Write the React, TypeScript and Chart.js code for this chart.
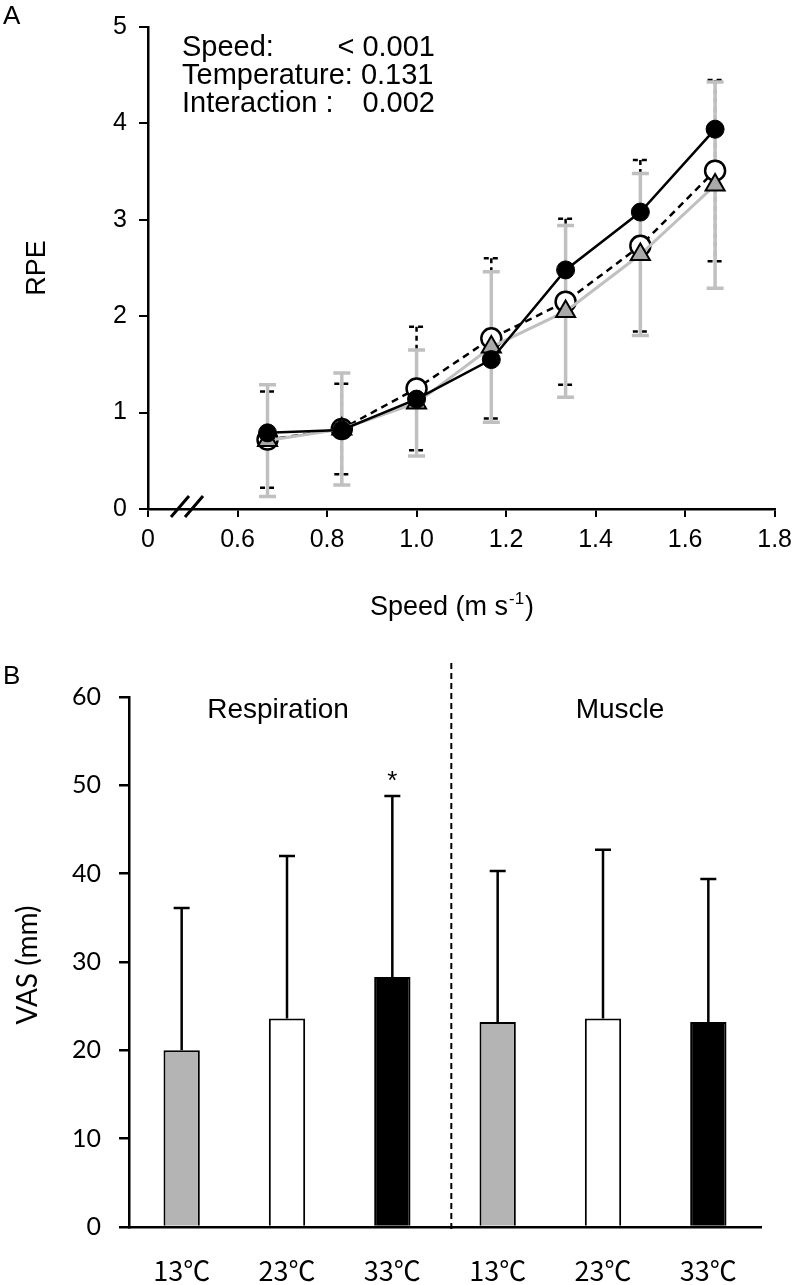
import React, { useEffect, useRef } from "react";
import { Chart, registerables } from "chart.js";

Chart.register(...registerables);

// ---------- Panel A data ----------
const speeds = [0.667, 0.833, 1.0, 1.167, 1.333, 1.5, 1.667];
const rpe33 = [0.79, 0.82, 1.14, 1.55, 2.48, 3.08, 3.94];
const rpe23 = [0.72, 0.83, 1.25, 1.77, 2.15, 2.73, 3.51];
const rpe13 = [0.71, 0.83, 1.1, 1.68, 2.05, 2.64, 3.36];
const sd23 = [0.5, 0.47, 0.64, 0.83, 0.86, 0.89, 0.94];
const sd13 = [0.58, 0.58, 0.55, 0.78, 0.89, 0.84, 1.07];
const xTickValues = [0.4, 0.6, 0.8, 1.0, 1.2, 1.4, 1.6, 1.8];
const xTickLabels = ["0", "0.6", "0.8", "1.0", "1.2", "1.4", "1.6", "1.8"];
const statLabels = ["Speed:", "Temperature: 0.131", "Interaction :"];
const statValues = ["< 0.001", "", "0.002"];

// ---------- Panel B data ----------
const vasCategories = ["13℃", "23℃", "33℃", "13℃", "23℃", "33℃"];
const vasMeans = [20.0, 23.6, 28.3, 23.2, 23.6, 23.2];
const vasSD = [16.1, 18.4, 20.5, 17.1, 19.1, 16.2];
const vasColors = ["#b4b4b4", "#ffffff", "#000000", "#b4b4b4", "#ffffff", "#000000"];
const vasGroups = ["Respiration", "Muscle"];
const vasSignificant = [false, false, true, false, false, false];
const DIVIDER_POS = 2.56;

const ARIAL = "'Liberation Sans', Arial, sans-serif";
const CALIBRI = "Lato, 'Noto Sans CJK JP', sans-serif";
const CJK = "'Noto Sans CJK JP', Lato, sans-serif";

function drawErrorBars(ctx: CanvasRenderingContext2D, x: any, y: any, xs: number[], ms: number[], sds: number[], color: string, width: number, cap: number, dash: number[]) {
  ctx.save();
  ctx.strokeStyle = color;
  ctx.lineWidth = width;
  ctx.setLineDash(dash);
  for (let i = 0; i < xs.length; i++) {
    const px = x.getPixelForValue(xs[i]);
    const top = y.getPixelForValue(ms[i] + sds[i]);
    const bot = y.getPixelForValue(ms[i] - sds[i]);
    ctx.beginPath();
    ctx.moveTo(px, top);
    ctx.lineTo(px, bot);
    ctx.moveTo(px - cap / 2, top);
    ctx.lineTo(px + cap / 2, top);
    ctx.moveTo(px - cap / 2, bot);
    ctx.lineTo(px + cap / 2, bot);
    ctx.stroke();
  }
  ctx.restore();
}

const errorBarsA = {
  id: "errorBarsA",
  beforeDatasetsDraw(chart: any) {
    const { ctx, scales } = chart;
    drawErrorBars(ctx, scales.x, scales.y, speeds, rpe23, sd23, "#000000", 2.5, 15, [5, 4]);
    drawErrorBars(ctx, scales.x, scales.y, speeds, rpe13, sd13, "#c0c0c0", 3.5, 17, []);
  },
};

const decorA = {
  id: "decorA",
  afterDraw(chart: any) {
    const { ctx, chartArea, scales } = chart;
    ctx.save();
    ctx.fillStyle = "#000";
    ctx.font = `26px ${ARIAL}`;
    ctx.textBaseline = "middle";
    ctx.textAlign = "left";
    ctx.fillText("A", 3, 17);
    ctx.font = `29px ${ARIAL}`;
    ctx.textBaseline = "alphabetic";
    const baselines = [56, 84, 112];
    for (let i = 0; i < statLabels.length; i++) {
      ctx.textAlign = "left";
      ctx.fillText(statLabels[i], 182, baselines[i]);
      if (statValues[i]) {
        ctx.textAlign = "right";
        ctx.fillText(statValues[i], 435, baselines[i]);
      }
    }
    ctx.save();
    ctx.font = `27px ${ARIAL}`;
    ctx.translate(38, (chartArea.top + chartArea.bottom) / 2);
    ctx.rotate(-Math.PI / 2);
    ctx.textAlign = "center";
    ctx.textBaseline = "middle";
    ctx.fillText("RPE", 0, 0);
    ctx.restore();
    const main1 = "Speed (m s";
    const sup = "-1";
    const main2 = ")";
    ctx.font = `27px ${ARIAL}`;
    const w1 = ctx.measureText(main1).width;
    const w3 = ctx.measureText(main2).width;
    ctx.font = `17px ${ARIAL}`;
    const w2 = ctx.measureText(sup).width;
    const total = w1 + w2 + w3;
    const cx = 451;
    const base = 615;
    const sx = cx - total / 2;
    ctx.textAlign = "left";
    ctx.textBaseline = "alphabetic";
    ctx.font = `27px ${ARIAL}`;
    ctx.fillText(main1, sx, base);
    ctx.font = `17px ${ARIAL}`;
    ctx.fillText(sup, sx + w1 + 1, base - 11);
    ctx.font = `27px ${ARIAL}`;
    ctx.fillText(main2, sx + w1 + w2 + 2, base);
    const yb = chartArea.bottom;
    const x0 = scales.x.left;
    ctx.strokeStyle = "#000";
    ctx.lineWidth = 3;
    ctx.beginPath();
    ctx.moveTo(x0 + 23, yb + 8);
    ctx.lineTo(x0 + 41, yb - 13);
    ctx.moveTo(x0 + 37, yb + 8);
    ctx.lineTo(x0 + 55, yb - 13);
    ctx.stroke();
    ctx.restore();
  },
};

const errorBarsB = {
  id: "errorBarsB",
  afterDatasetsDraw(chart: any) {
    const { ctx, scales, chartArea } = chart;
    const x = scales.x;
    const y = scales.y;
    ctx.save();
    ctx.strokeStyle = "#000";
    ctx.lineWidth = 2.5;
    for (let i = 0; i < vasMeans.length; i++) {
      const px = x.getPixelForValue(i);
      const top = y.getPixelForValue(vasMeans[i] + vasSD[i]);
      const bot = y.getPixelForValue(vasMeans[i]);
      ctx.beginPath();
      ctx.moveTo(px, bot);
      ctx.lineTo(px, top);
      ctx.moveTo(px - 8, top);
      ctx.lineTo(px + 8, top);
      ctx.stroke();
      if (vasSignificant[i]) {
        ctx.fillStyle = "#000";
        ctx.font = `26px ${ARIAL}`;
        ctx.textAlign = "center";
        ctx.textBaseline = "middle";
        ctx.fillText("*", px, top - 14);
      }
    }
    const dx = x.getPixelForValue(DIVIDER_POS);
    ctx.setLineDash([6, 4]);
    ctx.lineWidth = 2;
    ctx.beginPath();
    ctx.moveTo(dx, 13);
    ctx.lineTo(dx, chartArea.bottom + 4);
    ctx.stroke();
    ctx.setLineDash([]);
    ctx.fillStyle = "#000";
    ctx.font = `28px ${ARIAL}`;
    ctx.textAlign = "center";
    ctx.textBaseline = "middle";
    const g1 = (x.getPixelForValue(0) + x.getPixelForValue(2)) / 2 - 9;
    const g2 = (x.getPixelForValue(3) + x.getPixelForValue(5)) / 2 + 17;
    ctx.fillText(vasGroups[0], g1, 60);
    ctx.fillText(vasGroups[1], g2, 60);
    ctx.font = `26px ${ARIAL}`;
    ctx.textAlign = "left";
    ctx.fillText("B", 3, 27);
    ctx.save();
    ctx.font = `28px ${CALIBRI}`;
    ctx.translate(28, (chartArea.top + chartArea.bottom) / 2 + 3);
    ctx.rotate(-Math.PI / 2);
    ctx.textAlign = "center";
    ctx.textBaseline = "middle";
    ctx.fillText("VAS (mm)", 0, 0);
    ctx.restore();
    ctx.restore();
  },
};

function PanelA() {
  const ref = useRef<HTMLCanvasElement | null>(null);
  useEffect(() => {
    if (!ref.current) return;
    const pts = (ys: number[]) => speeds.map((s, i) => ({ x: s, y: ys[i] }));
    const chart = new Chart(ref.current, {
      type: "line",
      data: {
        datasets: [
          {
            label: "33",
            data: pts(rpe33),
            borderColor: "#000",
            borderWidth: 2.5,
            pointStyle: "circle",
            pointRadius: 9,
            pointBackgroundColor: "#000",
            pointBorderColor: "#000",
            pointBorderWidth: 1,
            order: 0,
          },
          {
            label: "13",
            data: pts(rpe13),
            borderColor: "#c0c0c0",
            borderWidth: 3,
            pointStyle: "triangle",
            pointRadius: 11,
            pointBackgroundColor: "#a9a9a9",
            pointBorderColor: "#000",
            pointBorderWidth: 2,
            order: 1,
          },
          {
            label: "23",
            data: pts(rpe23),
            borderColor: "#000",
            borderWidth: 2.5,
            borderDash: [7, 5],
            pointStyle: "circle",
            pointRadius: 10,
            pointBackgroundColor: "#fff",
            pointBorderColor: "#000",
            pointBorderWidth: 2.5,
            order: 2,
          },
        ],
      },
      options: {
        responsive: false,
        animation: false,
        layout: { padding: { left: 0, top: 16, right: 17, bottom: 0 } },
        plugins: { legend: { display: false }, tooltip: { enabled: false } },
        scales: {
          x: {
            type: "linear",
            min: 0.4,
            max: 1.8,
            afterBuildTicks: (scale: any) => {
              scale.ticks = xTickValues.map((v) => ({ value: v }));
            },
            afterFit: (scale: any) => {
              scale.height = 141;
            },
            ticks: {
              callback: (v: any) => {
                const idx = xTickValues.findIndex((t) => Math.abs(t - v) < 1e-6);
                return idx >= 0 ? xTickLabels[idx] : "";
              },
              font: { family: ARIAL, size: 25 },
              color: "#000",
              padding: 8,
              maxRotation: 0,
              autoSkip: false,
            },
            grid: { drawOnChartArea: false, tickLength: 8, color: "#000", lineWidth: 2 },
            border: { color: "#000", width: 2.5 },
          },
          y: {
            min: 0,
            max: 5,
            afterFit: (scale: any) => {
              scale.width = 148;
            },
            ticks: {
              stepSize: 1,
              font: { family: ARIAL, size: 25 },
              color: "#000",
              padding: 12,
            },
            grid: { drawOnChartArea: false, tickLength: 9, color: "#000", lineWidth: 2 },
            border: { color: "#000", width: 2.5 },
          },
        },
      },
      plugins: [errorBarsA, decorA],
    });
    return () => chart.destroy();
  }, []);
  return <canvas ref={ref} width={800} height={650} style={{ display: "block", width: 800, height: 650 }} />;
}

function PanelB() {
  const ref = useRef<HTMLCanvasElement | null>(null);
  useEffect(() => {
    if (!ref.current) return;
    const chart = new Chart(ref.current, {
      type: "bar",
      data: {
        labels: vasCategories,
        datasets: [
          {
            data: vasMeans,
            backgroundColor: vasColors,
            borderColor: "#000",
            borderWidth: 2,
            borderSkipped: "bottom",
            categoryPercentage: 1,
            barPercentage: 0.345,
          },
        ],
      },
      options: {
        responsive: false,
        animation: false,
        layout: { padding: { left: 0, top: 47, right: 39, bottom: 0 } },
        plugins: { legend: { display: false }, tooltip: { enabled: false } },
        scales: {
          x: {
            afterFit: (scale: any) => {
              scale.height = 58;
            },
            ticks: {
              font: { family: CJK, size: 27 },
              color: "#000",
              padding: 20,
              maxRotation: 0,
              autoSkip: false,
            },
            grid: { display: false },
            border: { color: "#000", width: 2.5 },
          },
          y: {
            min: 0,
            max: 60,
            afterFit: (scale: any) => {
              scale.width = 129;
            },
            ticks: {
              stepSize: 10,
              font: { family: CALIBRI, size: 25 },
              color: "#000",
              padding: 18,
            },
            grid: { drawOnChartArea: false, tickLength: 10, color: "#000", lineWidth: 2.5 },
            border: { color: "#000", width: 2.5 },
          },
        },
      },
      plugins: [errorBarsB],
    });
    return () => chart.destroy();
  }, []);
  return <canvas ref={ref} width={800} height={635} style={{ display: "block", width: 800, height: 635 }} />;
}

export default function App() {
  return (
    <div style={{ position: "absolute", left: 0, top: 0, width: 800, height: 1285, background: "#fff" }}>
      <PanelA />
      <PanelB />
    </div>
  );
}
